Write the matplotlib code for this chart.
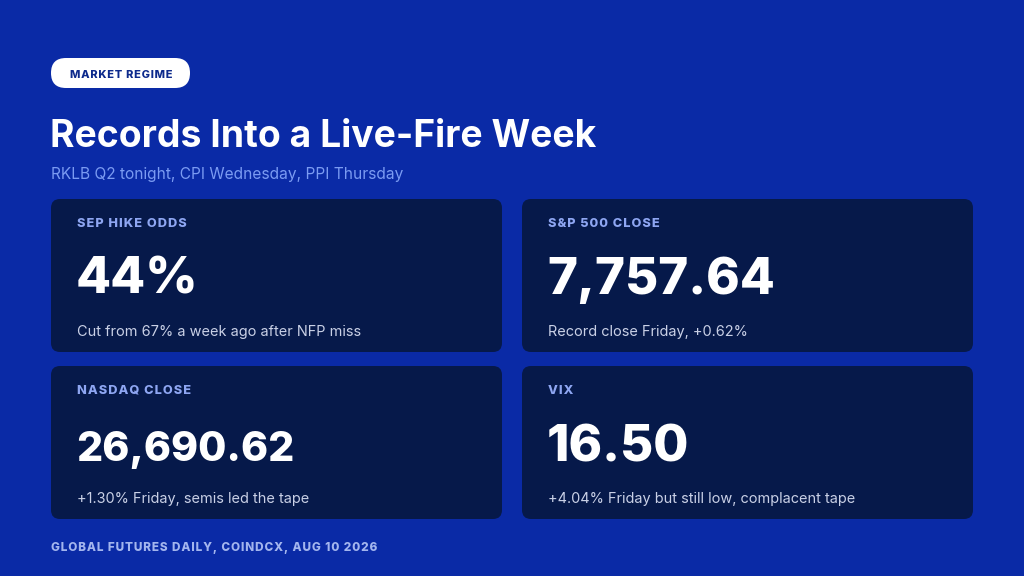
import matplotlib
matplotlib.use("Agg")
import matplotlib.pyplot as plt
from matplotlib.patches import FancyBboxPatch

# ---- data ----
badge = "MARKET REGIME"
title = "Records Into a Live-Fire Week"
subtitle = "RKLB Q2 tonight, CPI Wednesday, PPI Thursday"
card_labels = ["SEP HIKE ODDS", "S&P 500 CLOSE", "NASDAQ CLOSE", "VIX"]
card_values = ["44%", "7,757.64", "26,690.62", "16.50"]
card_notes = ["Cut from 67% a week ago after NFP miss",
              "Record close Friday, +0.62%",
              "+1.30% Friday, semis led the tape",
              "+4.04% Friday but still low, complacent tape"]
footer = "GLOBAL FUTURES DAILY, COINDCX, AUG 10 2026"

# ---- style ----
BG = "#0a2aa6"
CARD = "#06194a"
LABEL = "#8ea6f2"
SUB = "#7b9bf2"
NOTE = "#c9d0e6"
FOOT = "#a3b5ee"
FONT = ["Inter", "DejaVu Sans"]
HAIR = "\u200a"

def spaced(s):
    return HAIR.join(s)

fig = plt.figure(figsize=(10.24, 5.76), dpi=100)
fig.patch.set_facecolor(BG)
ax = fig.add_axes([0, 0, 1, 1])
ax.set_xlim(0, 1024)
ax.set_ylim(576, 0)
ax.axis("off")
ax.set_facecolor(BG)

def px(p):
    return p * 0.72  # pixels -> points at 100 dpi

# badge pill
ax.add_patch(FancyBboxPatch((51, 58), 139, 30,
                            boxstyle="round,pad=0,rounding_size=15",
                            fc="white", ec="none"))
ax.text(121, 78, spaced(badge), ha="center", va="baseline", color="#0d2a8c",
        fontsize=px(11), fontweight=800, family=FONT)

# title & subtitle
ax.text(50, 147, title, ha="left", va="baseline", color="white",
        fontsize=px(37.3), fontweight=700, family=FONT)
ax.text(51, 179, subtitle, ha="left", va="baseline", color=SUB,
        fontsize=px(15.5), fontweight=400, family=FONT)

# cards
xs = [51, 522, 51, 522]
ys = [199, 199, 366, 366]
vsize = [51, 51, 41, 51]
W, H = 451, 153
for i in range(4):
    x0, y0 = xs[i], ys[i]
    ax.add_patch(FancyBboxPatch((x0, y0), W, H,
                                boxstyle="round,pad=0,rounding_size=9",
                                fc=CARD, ec="none"))
    ax.text(x0 + 26, y0 + 28, spaced(card_labels[i]), ha="left", va="baseline",
            color=LABEL, fontsize=px(12.8), fontweight=800, family=FONT)
    ax.text(x0 + 25, y0 + 95, card_values[i], ha="left", va="baseline",
            color="white", fontsize=px(vsize[i]), fontweight=800, family=FONT)
    ax.text(x0 + 26, y0 + 137, card_notes[i], ha="left", va="baseline",
            color=NOTE, fontsize=px(14.5), fontweight=400, family=FONT)

ax.text(51, 551, spaced(footer), ha="left", va="baseline", color=FOOT,
        fontsize=px(11.8), fontweight=800, family=FONT)

fig.savefig("out.png", dpi=100, facecolor=BG)
